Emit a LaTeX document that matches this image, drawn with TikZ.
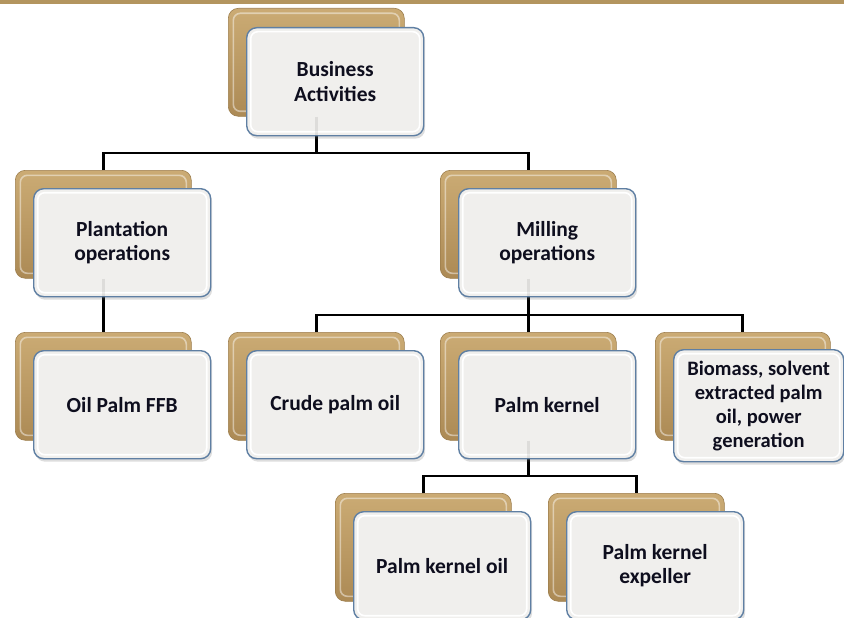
\documentclass[tikz,border=0pt]{standalone}
\usepackage{fontspec}
\setmainfont{Carlito}
\usetikzlibrary{shadows}
\definecolor{goldL}{HTML}{CBAB74}
\definecolor{goldD}{HTML}{AC8A55}
\definecolor{goldE}{HTML}{9C7D4C}
\definecolor{frontF}{HTML}{F0EFED}
\definecolor{frontE}{HTML}{5F7FA3}
\definecolor{barcol}{HTML}{B3955F}
\definecolor{txt}{HTML}{0E0E1E}
\tikzset{
  goldbox/.style={rectangle, rounded corners=10pt, minimum width=176pt, minimum height=108pt,
    inner sep=0pt, top color=goldL, bottom color=goldD, draw=goldE, line width=0.6pt, anchor=north west,
    path picture={\draw[white, opacity=0.45, line width=1.6pt, rounded corners=7pt]
      ([shift={(5pt,-5pt)}]path picture bounding box.north west) rectangle
      ([shift={(-5pt,5pt)}]path picture bounding box.south east);}},
  frontbox/.style={rectangle, rounded corners=10pt, minimum width=177pt, minimum height=108pt,
    inner sep=2pt, fill=frontF, draw=frontE, line width=1.4pt, text=txt, align=center, anchor=north west,
    font=\bfseries\fontsize{21.5}{24.5}\selectfont,
    drop shadow={shadow xshift=1.5pt, shadow yshift=-3pt, opacity=0.22, fill=black!60},
    path picture={\draw[white, line width=1.6pt, rounded corners=7pt]
      ([shift={(4pt,-4pt)}]path picture bounding box.north west) rectangle
      ([shift={(-4pt,4pt)}]path picture bounding box.south east);}},
  link/.style={line width=2.8pt, black},
  ghost/.style={line width=2.8pt, black, opacity=0.08},
}
\begin{document}
\begin{tikzpicture}[x=1pt, y=-1pt]
\useasboundingbox (0,0) rectangle (844,618);
\fill[barcol] (0,0) rectangle (844,4);
% back (gold) boxes
\node[goldbox] (gBA)  at (228,8)   {};
\node[goldbox] (gPL)  at (15,170)  {};
\node[goldbox] (gMI)  at (440,170) {};
\node[goldbox] (gFFB) at (15,332)  {};
\node[goldbox] (gCPO) at (228,332) {};
\node[goldbox] (gPK)  at (440,332) {};
\node[goldbox, minimum width=175pt] (gBIO) at (655,332) {};
\node[goldbox] (gPKO) at (335,493) {};
\node[goldbox] (gPKE) at (548,493) {};
% junction levels
\coordinate (j1) at (0,153);
\coordinate (j2) at (0,315);
\coordinate (j3) at (0,476);
% connectors
\draw[link] (gBA.south) -- (gBA.south |- j1);
\draw[link] (gPL.north) |- (gBA.south |- j1) -| (gMI.north);
\draw[link] (gPL.south) -- (gFFB.north);
\draw[link] (gMI.south) -- (gMI.south |- j2);
\draw[link] (gCPO.north) |- (gMI.south |- j2) -| (gBIO.north);
\draw[link] (gPK.north) -- (gMI.south |- j2);
\draw[link] (gPK.south) -- (gPK.south |- j3);
\draw[link] (gPKO.north) |- (gPK.south |- j3) -| (gPKE.north);
% front boxes
\node[frontbox] (fBA)  at (246,27)  {Business\\Activities};
\node[frontbox] (fPL)  at (33,188)  {Plantation\\operations};
\node[frontbox] (fMI)  at (458,188) {Milling\\operations};
\node[frontbox] (fFFB) at (33,350)  {Oil Palm FFB};
\node[frontbox] (fCPO) at (246,350) {Crude palm oil};
\node[frontbox] (fPK)  at (458,350) {Palm kernel};
\node[frontbox, minimum width=170pt, minimum height=112pt, font=\bfseries\fontsize{20.5}{24}\selectfont] (fBIO) at (673,349) {Biomass, solvent\\extracted palm\\oil, power\\generation};
\node[frontbox] (fPKO) at (353,511) {Palm kernel oil};
\node[frontbox] (fPKE) at (566,511) {Palm kernel\\expeller};
% faint connector traces seen through the front boxes
\draw[ghost] (gBA.south) -- (gBA.south |- fBA.south);
\draw[ghost] (gPL.south) -- (gPL.south |- fPL.south);
\draw[ghost] (gMI.south) -- (gMI.south |- fMI.south);
\draw[ghost] (gPK.south) -- (gPK.south |- fPK.south);
\end{tikzpicture}
\end{document}
